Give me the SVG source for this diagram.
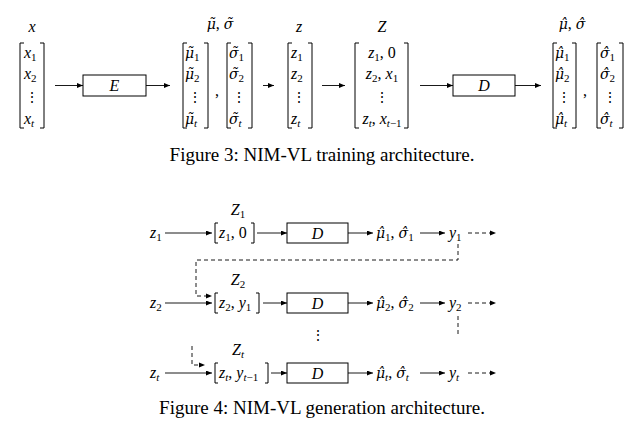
<svg xmlns="http://www.w3.org/2000/svg" width="644" height="433" viewBox="0 0 644 433">
<defs>
<marker id="ah" markerWidth="6" markerHeight="5" refX="6" refY="2.5" orient="auto" markerUnits="userSpaceOnUse">
<path d="M0,0 L6,2.5 L0,5 z" fill="#000"/>
</marker>
<style>
text{font-family:"Liberation Serif","Times New Roman",serif;fill:#000}
.m{font-style:italic;font-size:16px}
.u{font-style:normal}
.s{font-size:11px}
.g{font-family:"DejaVu Serif",serif;font-style:italic;font-size:14px}
.c{font-size:19px}
.bk{fill:none;stroke:#000;stroke-width:1}
.ar{fill:none;stroke:#000;stroke-width:0.9;marker-end:url(#ah)}
.da{fill:none;stroke:#000;stroke-width:0.9;stroke-dasharray:4,3}
.box{fill:#fff;stroke:#000;stroke-width:1}
.dots{font-family:"DejaVu Serif",serif;font-size:14px;font-style:normal;text-anchor:middle}
</style>
</defs>
<rect width="644" height="433" fill="#fff"/>

<!-- Figure 3 -->
<g id="mat-x">
<text class="m" x="32" y="32" text-anchor="middle">x</text>
<path class="bk" d="M24,43 H20 V128 H24 M40,43 H44 V128 H40"/>
<text class="m" x="24" y="58">x<tspan class="s u" dy="3">1</tspan></text>
<text class="m" x="24" y="79">x<tspan class="s u" dy="3">2</tspan></text>
<text class="dots" x="32" y="102">⋮</text>
<text class="m" x="24" y="124">x<tspan class="s" dy="3">t</tspan></text>
</g>
<g id="enc">
<rect class="box" x="83" y="75" width="63" height="21"/>
<text class="m" x="114.5" y="90.5" text-anchor="middle">E</text>
</g>
<g id="mat-mu-tilde">
<text class="m" x="220" y="29" text-anchor="middle"><tspan class="g">μ̃</tspan><tspan class="u">, </tspan><tspan class="g">σ̃</tspan></text>
<path class="bk" d="M187,43 H183 V128 H187 M204,43 H208 V128 H204"/>
<text class="m" x="185" y="58"><tspan class="g">μ̃</tspan><tspan class="s u" dy="3">1</tspan></text>
<text class="m" x="185" y="79"><tspan class="g">μ̃</tspan><tspan class="s u" dy="3">2</tspan></text>
<text class="dots" x="195" y="102">⋮</text>
<text class="m" x="185" y="124"><tspan class="g">μ̃</tspan><tspan class="s" dy="3">t</tspan></text>
<text class="m u" x="215" y="96">,</text>
<path class="bk" d="M231,43 H227 V128 H231 M248,43 H252 V128 H248"/>
<text class="m" x="229" y="58"><tspan class="g">σ̃</tspan><tspan class="s u" dy="3">1</tspan></text>
<text class="m" x="229" y="79"><tspan class="g">σ̃</tspan><tspan class="s u" dy="3">2</tspan></text>
<text class="dots" x="239" y="102">⋮</text>
<text class="m" x="229" y="124"><tspan class="g">σ̃</tspan><tspan class="s" dy="3">t</tspan></text>
</g>
<g id="mat-z">
<text class="m" x="299" y="32" text-anchor="middle">z</text>
<path class="bk" d="M292,43 H288 V128 H292 M308,43 H312 V128 H308"/>
<text class="m" x="291" y="58">z<tspan class="s u" dy="3">1</tspan></text>
<text class="m" x="291" y="79">z<tspan class="s u" dy="3">2</tspan></text>
<text class="dots" x="299" y="102">⋮</text>
<text class="m" x="291" y="124">z<tspan class="s" dy="3">t</tspan></text>
</g>
<g id="mat-Z">
<text class="m" x="382" y="32" text-anchor="middle">Z</text>
<path class="bk" d="M359,43 H355 V128 H359 M404,43 H408 V128 H404"/>
<text class="m" x="382" y="58" text-anchor="middle">z<tspan class="s u" dy="3">1</tspan><tspan class="u" dy="-3">, 0</tspan></text>
<text class="m" x="382" y="79" text-anchor="middle">z<tspan class="s u" dy="3">2</tspan><tspan class="u" dy="-3">, </tspan>x<tspan class="s u" dy="3">1</tspan></text>
<text class="dots" x="382" y="102">⋮</text>
<text class="m" x="382" y="124" text-anchor="middle">z<tspan class="s" dy="3">t</tspan><tspan class="u" dy="-3">, </tspan>x<tspan class="s" dy="3">t<tspan class="u">−1</tspan></tspan></text>
</g>
<g id="dec">
<rect class="box" x="453" y="75" width="62" height="21"/>
<text class="m" x="484" y="90.5" text-anchor="middle">D</text>
</g>
<g id="mat-mu-hat">
<text class="m" x="572" y="29" text-anchor="middle"><tspan class="g">μ̂</tspan><tspan class="u">, </tspan><tspan class="g">σ̂</tspan></text>
<path class="bk" d="M557,43 H553 V128 H557 M572,43 H576 V128 H572"/>
<text class="m" x="555" y="58"><tspan class="g">μ̂</tspan><tspan class="s u" dy="3">1</tspan></text>
<text class="m" x="555" y="79"><tspan class="g">μ̂</tspan><tspan class="s u" dy="3">2</tspan></text>
<text class="dots" x="564" y="102">⋮</text>
<text class="m" x="555" y="124"><tspan class="g">μ̂</tspan><tspan class="s" dy="3">t</tspan></text>
<text class="m u" x="583" y="96">,</text>
<path class="bk" d="M601,43 H597 V128 H601 M619,43 H623 V128 H619"/>
<text class="m" x="600" y="58"><tspan class="g">σ̂</tspan><tspan class="s u" dy="3">1</tspan></text>
<text class="m" x="600" y="79"><tspan class="g">σ̂</tspan><tspan class="s u" dy="3">2</tspan></text>
<text class="dots" x="610" y="102">⋮</text>
<text class="m" x="600" y="124"><tspan class="g">σ̂</tspan><tspan class="s" dy="3">t</tspan></text>
</g>
<g id="connectors-fig3">
<line class="ar" x1="55" y1="85.5" x2="83" y2="85.5"/>
<line class="ar" x1="146" y1="85.5" x2="170" y2="85.5"/>
<line class="ar" x1="263" y1="85.5" x2="274" y2="85.5"/>
<line class="ar" x1="322" y1="85.5" x2="345" y2="85.5"/>
<line class="ar" x1="420" y1="85.5" x2="453" y2="85.5"/>
<line class="ar" x1="515" y1="85.5" x2="541" y2="85.5"/>
</g>
<text id="cap3" class="c" x="322" y="161" text-anchor="middle">Figure 3: NIM-VL training architecture.</text>

<!-- Figure 4 -->
<g id="row1">
<text class="m" x="238" y="215" text-anchor="middle">Z<tspan class="s u" dy="3">1</tspan></text>
<text class="m" x="150" y="238">z<tspan class="s u" dy="3">1</tspan></text>
<path class="bk" d="M218,223 H215 V243 H218 M251,223 H254 V243 H251"/>
<text class="m" x="219" y="238">z<tspan class="s u" dy="3">1</tspan><tspan class="u" dy="-3">, 0</tspan></text>
<rect class="box" x="287" y="223" width="61" height="20"/>
<text class="m" x="317.5" y="238.5" text-anchor="middle">D</text>
<text class="m" x="376" y="238"><tspan class="g">μ̂</tspan><tspan class="s u" dy="3">1</tspan><tspan class="u" dy="-3">, </tspan><tspan class="g">σ̂</tspan><tspan class="s u" dy="3">1</tspan></text>
<text class="m" x="449" y="238">y<tspan class="s u" dy="3">1</tspan></text>
</g>
<g id="row2">
<text class="m" x="238" y="285" text-anchor="middle">Z<tspan class="s u" dy="3">2</tspan></text>
<text class="m" x="150" y="308">z<tspan class="s u" dy="3">2</tspan></text>
<path class="bk" d="M218,293 H215 V313 H218 M256,293 H259 V313 H256"/>
<text class="m" x="219" y="308">z<tspan class="s u" dy="3">2</tspan><tspan class="u" dy="-3">, </tspan>y<tspan class="s u" dy="3">1</tspan></text>
<rect class="box" x="287" y="293" width="61" height="20"/>
<text class="m" x="317.5" y="308.5" text-anchor="middle">D</text>
<text class="m" x="376" y="308"><tspan class="g">μ̂</tspan><tspan class="s u" dy="3">2</tspan><tspan class="u" dy="-3">, </tspan><tspan class="g">σ̂</tspan><tspan class="s u" dy="3">2</tspan></text>
<text class="m" x="449" y="308">y<tspan class="s u" dy="3">2</tspan></text>
</g>
<text class="dots" x="318" y="340">⋮</text>
<g id="rowt">
<text class="m" x="238" y="355" text-anchor="middle">Z<tspan class="s" dy="3">t</tspan></text>
<text class="m" x="150" y="378">z<tspan class="s" dy="3">t</tspan></text>
<path class="bk" d="M218,363 H215 V383 H218 M265,363 H268 V383 H265"/>
<text class="m" x="219" y="378">z<tspan class="s" dy="3">t</tspan><tspan class="u" dy="-3">, </tspan>y<tspan class="s" dy="3">t<tspan class="u">−1</tspan></tspan></text>
<rect class="box" x="287" y="363" width="61" height="20"/>
<text class="m" x="317.5" y="378.5" text-anchor="middle">D</text>
<text class="m" x="376" y="378"><tspan class="g">μ̂</tspan><tspan class="s" dy="3">t</tspan><tspan class="u" dy="-3">, </tspan><tspan class="g">σ̂</tspan><tspan class="s" dy="3">t</tspan></text>
<text class="m" x="449" y="378">y<tspan class="s" dy="3">t</tspan></text>
</g>
<g id="connectors-fig4">
<line class="ar" x1="165" y1="233" x2="212" y2="233"/>
<line class="ar" x1="257" y1="233" x2="287" y2="233"/>
<line class="ar" x1="348" y1="233" x2="373" y2="233"/>
<line class="ar" x1="420" y1="233" x2="445" y2="233"/>
<path class="da" d="M468,233 H490"/>
<path d="M490,230.5 L496,233 L490,235.5 z"/>
<path class="da" d="M458,244 V260 H196 V296 H206"/>
<path d="M206,293.5 L212,296 L206,298.5 z"/>

<line class="ar" x1="165" y1="303" x2="212" y2="303"/>
<line class="ar" x1="263" y1="303" x2="287" y2="303"/>
<line class="ar" x1="348" y1="303" x2="373" y2="303"/>
<line class="ar" x1="420" y1="303" x2="445" y2="303"/>
<path class="da" d="M468,303 H490"/>
<path d="M490,300.5 L496,303 L490,305.5 z"/>
<path class="da" d="M458,316 V334"/>

<path class="da" d="M192,346 V365 H199"/>
<path d="M199,362.5 L205,365 L199,367.5 z"/>
<line class="ar" x1="165" y1="373" x2="212" y2="373"/>
<line class="ar" x1="271" y1="373" x2="287" y2="373"/>
<line class="ar" x1="348" y1="373" x2="373" y2="373"/>
<line class="ar" x1="420" y1="373" x2="445" y2="373"/>
<path class="da" d="M468,373 H490"/>
<path d="M490,370.5 L496,373 L490,375.5 z"/>
</g>
<text id="cap4" class="c" x="322" y="414" text-anchor="middle">Figure 4: NIM-VL generation architecture.</text>
</svg>
